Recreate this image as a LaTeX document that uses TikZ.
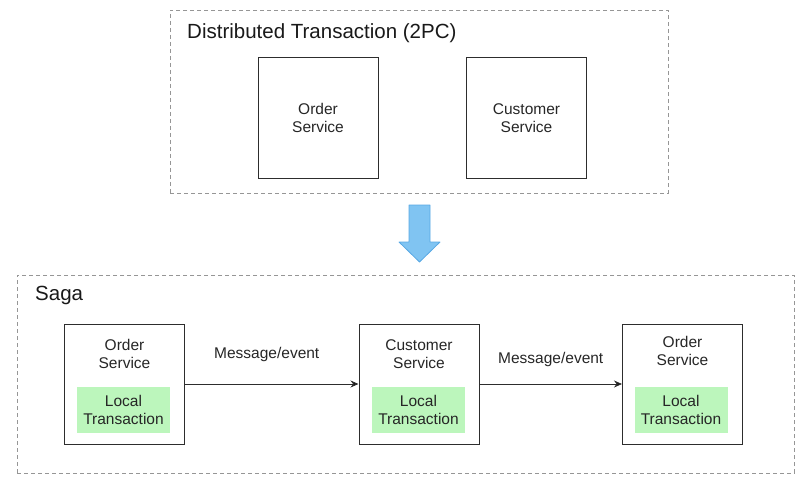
\documentclass[tikz,border=0pt]{standalone}
\usepackage{fontspec}
\setmainfont{Liberation Sans}
\usetikzlibrary{arrows.meta}

\definecolor{boxline}{RGB}{45,45,45}
\definecolor{frameline}{RGB}{150,150,150}
\definecolor{localgreen}{RGB}{188,246,188}
\definecolor{arrowblue}{RGB}{128,196,242}
\definecolor{arrowedge}{RGB}{88,168,228}

\begin{document}
\begin{tikzpicture}[x=1pt, y=-1pt,
  frame/.style={shape=rectangle, draw=frameline, dash pattern=on 4pt off 3pt, line width=0.8pt},
  service/.style={shape=rectangle, draw=boxline, line width=1pt, minimum width=120pt, minimum height=120pt},
  local/.style={shape=rectangle, fill=localgreen, minimum width=93pt, minimum height=46pt, inner sep=0pt, align=center, font=\fontsize{15.5}{18}\selectfont, text=black!85},
  txt/.style={align=center, inner sep=0pt, font=\fontsize{15.5}{18}\selectfont, text=black!85},
  heading/.style={anchor=west, inner sep=0pt, font=\fontsize{20.5}{24}\selectfont, text=black!90}]
\useasboundingbox (0,0) rectangle (803,487);

% 2PC
\node[frame, minimum width=498pt, minimum height=183pt] (dt) at (419,101.5) {};
\node[heading] (dttitle) at (187,33) {Distributed Transaction (2PC)};
\node[service, txt] (ordtop) at (318,118) {Order\\Service};
\node[service, txt] (custtop) at (526.5,118) {Customer\\Service};

\fill[arrowblue, draw=arrowedge, line width=0.8pt, line join=round]
(409,205) -- (430,205) -- (430,242) -- (440,242) -- (419.5,262) -- (399,242) -- (409,242) -- cycle;

% Saga
\node[frame, minimum width=777pt, minimum height=198pt] (saga) at (405.5,374) {};
\node[heading] (sagatitle) at (35,295) {Saga};

\node[service] (ord1) at (124.5,384) {};
\node[service] (cust) at (419,384) {};
\node[service] (ord2) at (682.5,384) {};

\node[txt, anchor=north] (ord1lbl) at ([yshift=-16pt]ord1.north) {Order\\Service};
\node[txt, anchor=north] (custlbl) at ([yshift=-16pt]cust.north) {Customer\\Service};
\node[txt, anchor=north] (ord2lbl) at ([yshift=-13pt]ord2.north) {Order\\Service};

\node[local] (lt1) at (123.5,410) {Local\\Transaction};
\node[local] (lt2) at (418.5,410) {Local\\Transaction};
\node[local] (lt3) at (681,410) {Local\\Transaction};

\path[draw=boxline, line width=1pt, -{Stealth[length=8pt,width=7pt]}, every node/.style={txt}]
(ord1) edge node[above=22pt, xshift=-5pt] {Message/event} (cust)
(cust) edge node[above=17pt] {Message/event} (ord2);
\end{tikzpicture}
\end{document}
